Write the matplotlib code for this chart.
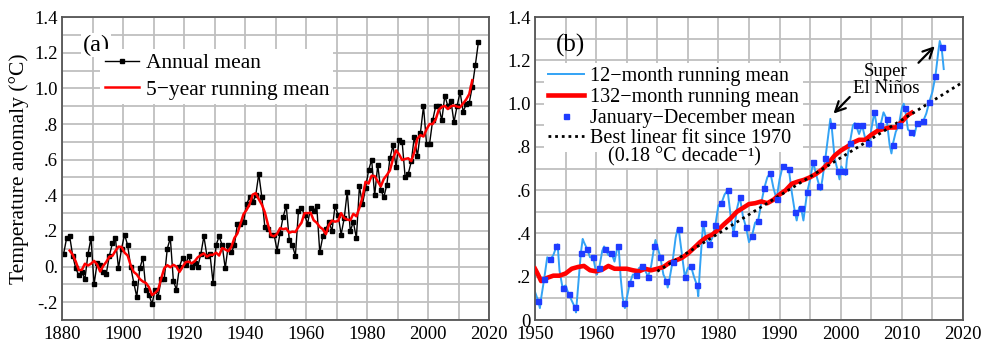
import matplotlib
matplotlib.use('Agg')
import matplotlib.pyplot as plt
import matplotlib.ticker as ticker
import numpy as np

plt.rcParams['font.family'] = ['Liberation Serif', 'DejaVu Serif']

# ---- panel (a): annual global temperature anomaly (degC) ----
years = np.arange(1880, 2017)
annual_mean = [
    0.07, 0.16, 0.17, 0.06, -0.01, -0.05, -0.03, -0.07, 0.07, 0.16,   # 1880s
    -0.10, 0.02, 0.01, -0.03, -0.04, 0.06, 0.13, 0.16, -0.01, 0.10,   # 1890s
    0.18, 0.12, 0.00, -0.09, -0.17, -0.01, 0.05, -0.13, -0.16, -0.21,  # 1900s
    -0.13, -0.17, -0.07, -0.07, 0.10, 0.16, -0.08, -0.13, 0.00, 0.05,  # 1910s
    0.01, 0.06, 0.00, 0.02, 0.00, 0.07, 0.17, 0.06, 0.07, -0.09,      # 1920s
    0.12, 0.17, 0.12, -0.01, 0.12, 0.08, 0.12, 0.24, 0.24, 0.25,      # 1930s
    0.35, 0.39, 0.36, 0.40, 0.52, 0.39, 0.22, 0.21, 0.18, 0.18,       # 1940s
    0.09, 0.19, 0.28, 0.34, 0.15, 0.12, 0.06, 0.31, 0.33, 0.29,       # 1950s
    0.24, 0.33, 0.31, 0.34, 0.08, 0.17, 0.21, 0.25, 0.20, 0.34,       # 1960s
    0.29, 0.18, 0.27, 0.42, 0.20, 0.25, 0.16, 0.45, 0.35, 0.44,       # 1970s
    0.54, 0.60, 0.40, 0.57, 0.43, 0.39, 0.46, 0.61, 0.68, 0.56,       # 1980s
    0.71, 0.70, 0.50, 0.52, 0.59, 0.73, 0.62, 0.75, 0.90, 0.69,       # 1990s
    0.69, 0.82, 0.90, 0.90, 0.82, 0.96, 0.90, 0.93, 0.81, 0.90,       # 2000s
    0.98, 0.87, 0.91, 0.92, 1.01, 1.13, 1.26,                         # 2010s
]

run5_years = np.arange(1882, 2015)
run5_mean = [
    0.090, 0.066, 0.028, -0.020, -0.018, 0.016, 0.006, 0.016,
    0.032, 0.012, -0.028, 0.004, 0.026, 0.056, 0.060, 0.088, 0.112, 0.110,
    0.078, 0.062, 0.008, -0.030, -0.044, -0.070, -0.084, -0.092, -0.116, -0.160,
    -0.148, -0.130, -0.068, -0.010, 0.008, -0.004, 0.010, 0.000, -0.030, -0.002,
    0.024, 0.028, 0.018, 0.030, 0.052, 0.064, 0.074, 0.056, 0.066, 0.066,
    0.078, 0.062, 0.104, 0.096, 0.086, 0.110, 0.160, 0.186, 0.240, 0.294,
    0.318, 0.350, 0.404, 0.412, 0.378, 0.348, 0.304, 0.236, 0.176, 0.170,
    0.184, 0.216, 0.210, 0.214, 0.190, 0.196, 0.194, 0.222, 0.246, 0.300,
    0.300, 0.302, 0.260, 0.246, 0.222, 0.210, 0.182, 0.234, 0.258, 0.252,
    0.256, 0.300, 0.272, 0.264, 0.260, 0.296, 0.282, 0.330, 0.388, 0.476,
    0.466, 0.510, 0.508, 0.478, 0.450, 0.492, 0.514, 0.540, 0.604, 0.652,
    0.630, 0.598, 0.604, 0.608, 0.592, 0.642, 0.718, 0.738, 0.730, 0.770,
    0.800, 0.800, 0.826, 0.880, 0.896, 0.902, 0.884, 0.900, 0.904, 0.898,
    0.894, 0.916, 0.938, 0.968, 1.046,
]

# ---- panel (b): since 1950 ----
blue_t = [
    1950.0, 1950.5, 1950.8, 1951.0, 1951.5, 1952.0, 1952.5, 1953.0, 1953.5, 1953.7,
    1954.0, 1954.5, 1955.0, 1955.5, 1956.0, 1956.5, 1956.7, 1957.0, 1957.5, 1957.8,
    1958.0, 1958.5, 1959.0, 1959.5, 1960.0, 1960.1, 1960.5, 1961.0, 1961.3, 1961.5,
    1962.0, 1962.5, 1963.0, 1963.5, 1963.7, 1964.0, 1964.3, 1964.5, 1964.7, 1965.0,
    1965.5, 1966.0, 1966.5, 1967.0, 1967.5, 1968.0, 1968.5, 1969.0, 1969.5, 1969.7,
    1970.0, 1970.5, 1971.0, 1971.5, 1971.7, 1972.0, 1972.5, 1973.0, 1973.3, 1973.5,
    1974.0, 1974.5, 1975.0, 1975.5, 1976.0, 1976.5, 1976.7, 1977.0, 1977.5, 1978.0,
    1978.5, 1979.0, 1979.5, 1980.0, 1980.5, 1981.0, 1981.5, 1982.0, 1982.5, 1983.0,
    1983.5, 1984.0, 1984.5, 1985.0, 1985.5, 1986.0, 1986.5, 1987.0, 1987.5, 1988.0,
    1988.5, 1989.0, 1989.5, 1990.0, 1990.5, 1991.0, 1991.5, 1992.0, 1992.5, 1992.8,
    1993.2, 1993.5, 1993.9, 1994.5, 1995.0, 1995.5, 1996.0, 1996.5, 1996.7, 1997.0,
    1997.5, 1998.0, 1998.3, 1998.5, 1999.0, 1999.5, 1999.8, 2000.1, 2000.5, 2000.8,
    2001.0, 2001.5, 2002.0, 2002.3, 2002.5, 2003.0, 2003.5, 2004.0, 2004.5, 2004.7,
    2005.0, 2005.5, 2006.0, 2006.5, 2007.0, 2007.5, 2008.0, 2008.3, 2008.5, 2009.0,
    2009.5, 2010.0, 2010.3, 2010.5, 2011.0, 2011.5, 2012.0, 2012.5, 2013.0, 2013.5,
    2014.0, 2014.5, 2015.0, 2015.5, 2016.0, 2016.2, 2016.5, 2016.85,
]
blue_v = [
    0.13, 0.09, 0.055, 0.10, 0.19, 0.29, 0.28, 0.30, 0.34, 0.35,
    0.23, 0.15, 0.16, 0.12, 0.09, 0.06, 0.035, 0.14, 0.31, 0.375,
    0.36, 0.33, 0.29, 0.29, 0.22, 0.21, 0.24, 0.32, 0.34, 0.33,
    0.30, 0.31, 0.27, 0.34, 0.33, 0.20, 0.11, 0.08, 0.055, 0.10,
    0.17, 0.21, 0.21, 0.24, 0.25, 0.23, 0.20, 0.25, 0.34, 0.37,
    0.34, 0.29, 0.21, 0.18, 0.15, 0.19, 0.27, 0.38, 0.42, 0.42,
    0.31, 0.20, 0.24, 0.25, 0.20, 0.16, 0.11, 0.25, 0.45, 0.37,
    0.35, 0.38, 0.44, 0.53, 0.54, 0.58, 0.60, 0.48, 0.40, 0.51,
    0.57, 0.48, 0.43, 0.36, 0.39, 0.45, 0.46, 0.54, 0.61, 0.66,
    0.68, 0.61, 0.56, 0.65, 0.71, 0.70, 0.70, 0.59, 0.50, 0.46,
    0.52, 0.52, 0.46, 0.59, 0.65, 0.73, 0.67, 0.62, 0.60, 0.65,
    0.75, 0.86, 0.93, 0.90, 0.75, 0.69, 0.65, 0.71, 0.69, 0.67,
    0.74, 0.82, 0.90, 0.91, 0.90, 0.86, 0.90, 0.84, 0.82, 0.80,
    0.88, 0.96, 0.88, 0.90, 0.96, 0.93, 0.81, 0.77, 0.81, 0.87,
    0.90, 0.98, 1.00, 0.98, 0.88, 0.87, 0.85, 0.91, 0.90, 0.92,
    0.955, 1.01, 1.055, 1.13, 1.25, 1.29, 1.26, 1.16,
]

red_t = [1950.0, 1950.5] + list(range(1951, 2012)) + [2011.6]
red_v = [
    0.237, 0.21, 0.18, 0.195, 0.205, 0.205, 0.215, 0.237, 0.245, 0.25,
    0.23, 0.225, 0.233, 0.25, 0.237, 0.237, 0.237, 0.23, 0.225, 0.237,
    0.23, 0.237, 0.245, 0.265, 0.275, 0.287, 0.307, 0.333, 0.36, 0.382,
    0.395, 0.418, 0.445, 0.47, 0.50, 0.518, 0.536, 0.54, 0.548, 0.54,
    0.556, 0.58, 0.60, 0.63, 0.64, 0.648, 0.66, 0.676, 0.697, 0.725,
    0.76, 0.783, 0.80, 0.82, 0.833, 0.833, 0.856, 0.874, 0.883, 0.89,
    0.89, 0.917, 0.948, 0.958,
]

fit_years = [1970, 2020]
fit_vals = [0.225, 1.10]

grid_col = '#bfbfbf'
frame_col = '#555555'

fig = plt.figure(figsize=(9.88, 3.43), dpi=100)
ax1 = fig.add_axes([0.0628, 0.067, 0.4322, 0.883])
ax2 = fig.add_axes([0.5415, 0.067, 0.4332, 0.883])

for ax in (ax1, ax2):
    ax.set_axisbelow(True)
    ax.grid(which='both', color=grid_col, linewidth=1.3)
    for s in ax.spines.values():
        s.set_color(frame_col)
        s.set_linewidth(1.3)
    ax.tick_params(which='both', length=0, labelsize=13.5)
    ax.tick_params(axis='x', pad=4)
    ax.tick_params(axis='y', pad=3)

# panel (a)
ax1.plot(years + 0.5, annual_mean, color='black', lw=1.0, marker='s', ms=3.2,
         label='Annual mean')
ax1.plot(run5_years + 0.5, run5_mean, color='red', lw=1.8,
         label='5\u2212year running mean')
ax1.set_xlim(1880, 2020)
ax1.set_ylim(-0.3, 1.4)
ax1.set_xticks(np.arange(1880, 2021, 20))
ax1.xaxis.set_minor_locator(ticker.MultipleLocator(10))
ax1.set_yticks(np.arange(-0.2, 1.41, 0.2),
               ['-.2', '0.', '.2', '.4', '.6', '.8', '1.0', '1.2', '1.4'])
ax1.yaxis.set_minor_locator(ticker.MultipleLocator(0.1))
ax1.set_ylabel('Temperature anomaly (\u00b0C)', fontsize=15.5, labelpad=4)
ax1.text(0.08, 0.907, '(a)', transform=ax1.transAxes, fontsize=17.5,
         ha='center', va='center',
         bbox=dict(facecolor='white', edgecolor='none', pad=1))
leg1 = ax1.legend(loc='upper left', bbox_to_anchor=(0.09, 0.895), fontsize=15.5,
                  frameon=True, framealpha=1, edgecolor='none', fancybox=False,
                  borderpad=0.2, borderaxespad=0, handlelength=1.6,
                  handletextpad=0.3, labelspacing=0.3, numpoints=1)

# panel (b)
l_blue, = ax2.plot(blue_t, blue_v, color='#33a3f5', lw=1.4, zorder=2,
                   label='12\u2212month running mean')
l_red, = ax2.plot(red_t, red_v, color='red', lw=3.3, zorder=3,
                  label='132\u2212month running mean')
l_fit, = ax2.plot(fit_years, fit_vals, color='black', lw=2.0,
                  linestyle=(0, (1, 1.4)), zorder=4,
                  label='Best linear fit since 1970')
l_sq, = ax2.plot(years[70:] + 0.5, annual_mean[70:], linestyle='none', marker='s',
                 ms=3.6, color='#1f3cff', zorder=5,
                 label='January\u2212December mean')
ax2.set_xlim(1950, 2020)
ax2.set_ylim(0, 1.4)
ax2.set_xticks(np.arange(1950, 2021, 10))
ax2.xaxis.set_minor_locator(ticker.MultipleLocator(5))
ax2.set_yticks(np.arange(0, 1.41, 0.2),
               ['0', '.2', '.4', '.6', '.8', '1.0', '1.2', '1.4'])
ax2.yaxis.set_minor_locator(ticker.MultipleLocator(0.1))
ax2.text(0.082, 0.907, '(b)', transform=ax2.transAxes, fontsize=18,
         ha='center', va='center')
leg2 = ax2.legend(handles=[l_blue, l_red, l_sq, l_fit], loc='upper left',
                  bbox_to_anchor=(0.021, 0.848), fontsize=14.5,
                  frameon=True, framealpha=1, edgecolor='none', fancybox=False,
                  borderpad=0.2, borderaxespad=0, handlelength=1.8,
                  handletextpad=0.3, labelspacing=0.08, numpoints=1)
ax2.text(0.35, 0.538, '(0.18 \u00b0C decade\u207b\u00b9)', transform=ax2.transAxes,
         fontsize=14.5, ha='center', va='center', zorder=6,
         bbox=dict(facecolor='white', edgecolor='none', pad=1))

ax2.text(2007.4, 1.11, 'Super\nEl Ni\u00f1os', fontsize=13.5, ha='center',
         va='center', linespacing=0.95)
arrow = dict(arrowstyle='->', lw=1.6, color='black', mutation_scale=18)
ax2.annotate('', xy=(1998.5, 0.945), xytext=(2001.8, 1.04), arrowprops=arrow)
ax2.annotate('', xy=(2015.7, 1.275), xytext=(2012.4, 1.18), arrowprops=arrow)

fig.savefig('out.png', dpi=100)
